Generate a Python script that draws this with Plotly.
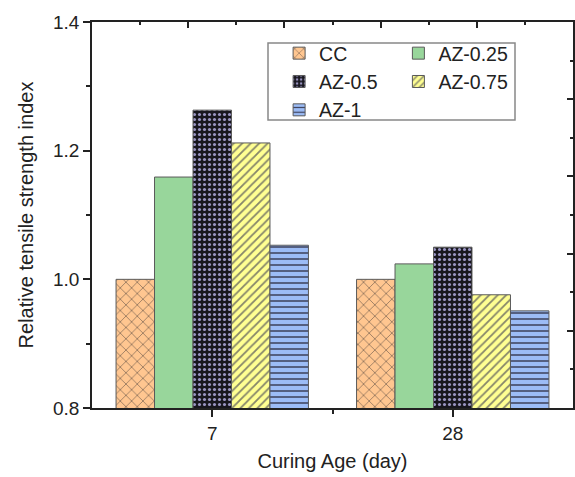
import plotly.graph_objects as go

categories = ["7", "28"]
series_names = ["CC", "AZ-0.25", "AZ-0.5", "AZ-0.75", "AZ-1"]
values = {
    "CC": [1.000, 1.000],
    "AZ-0.25": [1.159, 1.024],
    "AZ-0.5": [1.263, 1.050],
    "AZ-0.75": [1.212, 0.976],
    "AZ-1": [1.053, 0.951],
}
y_ticks = [0.8, 1.0, 1.2, 1.4]

styles = {
    "CC": dict(bg="#FFC690", fg="#6e5a4c", shape="x", size=8, solidity=0.15, legend="legend"),
    "AZ-0.25": dict(bg="#98D69B", fg="#98D69B", shape="", size=8, solidity=0.2, legend="legend2"),
    "AZ-0.5": dict(bg="#17161e", fg="#9a95c2", shape=".", size=5, solidity=0.3, legend="legend"),
    "AZ-0.75": dict(bg="#FFFF92", fg="#85856a", shape="/", size=6, solidity=0.3, legend="legend2"),
    "AZ-1": dict(bg="#9CBCF6", fg="#3c3f5a", shape="-", size=6, solidity=0.25, legend="legend"),
}

xpos = list(range(len(categories)))
FONT = "Liberation Sans, Arial, sans-serif"
AX = "#222222"

fig = go.Figure()
for name in series_names:
    s = styles[name]
    fig.add_trace(go.Bar(
        name=name, x=xpos, y=values[name],
        legend=s["legend"],
        marker=dict(
            color=s["bg"],
            line=dict(color="#5a5a5a", width=1),
            pattern=dict(shape=s["shape"], bgcolor=s["bg"], fgcolor=s["fg"],
                         size=s["size"], solidity=s["solidity"], fillmode="replace"),
        ),
    ))

# mirrored frame axes (top / right) with their own ticks as in the original
fig.add_trace(go.Scatter(x=[None], y=[None], xaxis="x2", yaxis="y2", showlegend=False, hoverinfo="skip"))

fig.update_layout(
    width=575, height=477,
    margin=dict(l=92, r=2, t=22, b=69),
    paper_bgcolor="white", plot_bgcolor="white",
    barmode="group", bargap=0.2, bargroupgap=0,
    font=dict(family=FONT, size=19, color=AX),
    xaxis=dict(
        range=[-0.5, 1.5], tickmode="array", tickvals=xpos, ticktext=categories,
        showline=True, linecolor=AX, linewidth=1.5,
        ticks="outside", ticklen=7, tickwidth=1.5, tickcolor=AX,
        minor=dict(tickmode="array", tickvals=[0.5], ticks="outside", ticklen=4, tickwidth=1.5, tickcolor=AX),
        showgrid=False, zeroline=False, automargin=False,
        title=dict(text="Curing Age (day)", font=dict(size=20), standoff=11),
        tickfont=dict(size=19),
    ),
    yaxis=dict(
        range=[0.8, 1.4], tickvals=y_ticks, tickformat=".1f",
        showline=True, linecolor=AX, linewidth=1.5,
        ticks="outside", ticklen=7, tickwidth=1.5, tickcolor=AX,
        minor=dict(dtick=0.1, ticks="outside", ticklen=4, tickwidth=1.5, tickcolor=AX),
        showgrid=False, zeroline=False, automargin=False,
        title=dict(text="Relative tensile strength index", font=dict(size=20), standoff=14),
        tickfont=dict(size=19),
    ),
    xaxis2=dict(
        overlaying="x", side="top", range=[0, 5], dtick=1, showticklabels=False,
        showline=True, linecolor=AX, linewidth=1.5,
        ticks="inside", ticklen=6, tickwidth=1.5, tickcolor=AX,
        minor=dict(dtick=0.5, ticks="inside", ticklen=3, tickwidth=1.5, tickcolor=AX),
        showgrid=False, zeroline=False,
    ),
    yaxis2=dict(
        overlaying="y", side="right", range=[0, 5], dtick=1, showticklabels=False,
        showline=True, linecolor=AX, linewidth=1.5,
        ticks="inside", ticklen=6, tickwidth=1.5, tickcolor=AX,
        minor=dict(dtick=0.5, ticks="inside", ticklen=3, tickwidth=1.5, tickcolor=AX),
        showgrid=False, zeroline=False,
    ),
    legend=dict(x=0.389, y=0.969, xanchor="left", yanchor="top", bgcolor="rgba(0,0,0,0)",
                borderwidth=0, tracegroupgap=0, font=dict(size=19.5), traceorder="normal"),
    legend2=dict(x=0.637, y=0.969, xanchor="left", yanchor="top", bgcolor="rgba(0,0,0,0)",
                 borderwidth=0, tracegroupgap=0, font=dict(size=19.5), traceorder="normal"),
    shapes=[dict(type="rect", xref="paper", yref="paper",
                 x0=(268 - 92) / 481, x1=(515 - 92) / 481,
                 y0=(408 - 120) / 386, y1=(408 - 43) / 386,
                 line=dict(color="#888888", width=1.5), fillcolor="rgba(0,0,0,0)", layer="above")],
)

fig.write_html("out.html", config={"displayModeBar": False},
               post_script="document.body.style.margin='0';")
